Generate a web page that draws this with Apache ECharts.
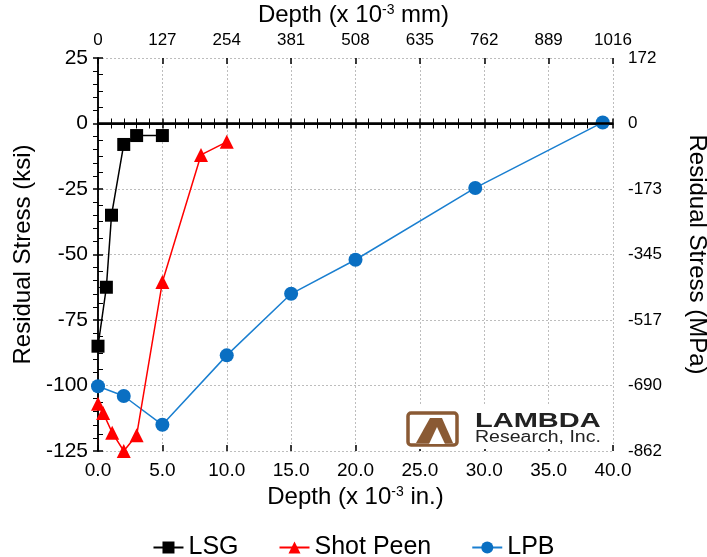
<!DOCTYPE html>
<html>
<head>
<meta charset="utf-8">
<title>Residual stress vs depth</title>
<script src="https://cdn.jsdelivr.net/npm/echarts@6/dist/echarts.min.js"></script>
<style>
  html, body { margin: 0; padding: 0; background: #fff; }
  #chart { width: 707px; height: 557px; }
</style>
</head>
<body>
<div id="chart"></div>
<script>
// depth in 10^-3 in., stress in ksi
const lsgDepth = [0, 0.65, 1.05, 2.0, 3.0, 5.0];
const lsgStress = [-85, -62.5, -35, -8, -4.6, -4.6];

const peenDepth = [0, 0.4, 1.1, 2.0, 3.0, 5.0, 8.0, 10.0];
const peenStress = [-107, -110.5, -118, -125, -119, -60.5, -12, -7];

const lpbDepth = [0, 2.0, 5.0, 10.0, 15.0, 20.0, 29.3, 39.2];
const lpbStress = [-100.3, -104, -115, -88.5, -65, -52, -24.6, 0.4];

const topTickLabels = ["0", "127", "254", "381", "508", "635", "762", "889", "1016"];
const rightTickLabels = ["172", "0", "-173", "-345", "-517", "-690", "-862"]; // top -> bottom

const FONT = "Liberation Sans, Arial, sans-serif";
const pairs = (xs, ys) => xs.map((x, i) => [x, ys[i]]);

const chart = echarts.init(document.getElementById("chart"), null, { renderer: "canvas" });

const axisLine = { show: true, lineStyle: { color: "#000", width: 1.5 } };
const dotted = { show: true, lineStyle: { color: "#bdbdbd", type: [2, 2], width: 1 } };
const innerTicks = (pos) => ({
  type: "value", position: pos, min: 0, max: 40, interval: 5,
  axisLine: { show: false }, axisLabel: { show: false }, splitLine: { show: false },
  axisTick: { show: true, inside: true, length: 6, lineStyle: { color: "#000", width: 1.5 } },
});

chart.setOption({
  animation: false,
  grid: { left: 98, right: 94, top: 58, bottom: 106, outerBoundsMode: "none", containLabel: false },
  xAxis: [
    {
      type: "value", position: "bottom", min: 0, max: 40, interval: 5,
      name: "Depth (x 10{sup|-3} in.)", nameLocation: "middle", nameGap: 34,
      nameTextStyle: { fontFamily: FONT, fontSize: 24, color: "#000",
        rich: { sup: { fontFamily: FONT, fontSize: 14, verticalAlign: "top", color: "#000" } } },
      axisLine,
      axisTick: { show: true, length: 5, lineStyle: { color: "#000", width: 1.5 } },
      minorTick: { show: true, splitNumber: 5, length: 5, lineStyle: { color: "#000", width: 1 } },
      axisLabel: { fontFamily: FONT, fontSize: 19, color: "#000", margin: 10, formatter: (v) => v.toFixed(1) },
      splitLine: dotted,
    },
    {
      type: "value", position: "top", min: 0, max: 40, interval: 5,
      axisLine,
      axisTick: { show: true, length: 5, lineStyle: { color: "#000", width: 1.5 } },
      minorTick: { show: true, splitNumber: 5, length: 5, lineStyle: { color: "#000", width: 1 } },
      axisLabel: { fontFamily: FONT, fontSize: 17, color: "#000", margin: 9,
        formatter: (v) => topTickLabels[Math.round(v / 5)] },
      splitLine: { show: false },
    },
    innerTicks("bottom"),
    innerTicks("top"),
  ],
  yAxis: [
    {
      type: "value", position: "left", min: -125, max: 25, interval: 25,
      name: "Residual Stress (ksi)", nameLocation: "middle", nameGap: 63,
      nameTextStyle: { fontFamily: FONT, fontSize: 24, color: "#000" },
      axisLine,
      axisTick: { show: true, length: 5, lineStyle: { color: "#000", width: 1.5 } },
      minorTick: { show: true, splitNumber: 5, length: 5, lineStyle: { color: "#000", width: 1 } },
      axisLabel: { fontFamily: FONT, fontSize: 21, color: "#000", margin: 10 },
      splitLine: dotted,
    },
    {
      type: "value", position: "right", min: -125, max: 25, interval: 25,
      name: "Residual Stress (MPa)", nameLocation: "middle", nameGap: 72, nameRotate: -90,
      nameTextStyle: { fontFamily: FONT, fontSize: 24, color: "#000" },
      axisLine,
      axisTick: { show: true, length: 5, lineStyle: { color: "#000", width: 1.5 } },
      minorTick: { show: true, splitNumber: 4, length: 5, lineStyle: { color: "#000", width: 1 } },
      axisLabel: { fontFamily: FONT, fontSize: 17, color: "#000", margin: 15,
        formatter: (v) => rightTickLabels[Math.round((25 - v) / 25)] },
      splitLine: { show: false },
    },
  ],
  legend: {
    top: 530, left: "center", itemGap: 40, itemWidth: 30, itemHeight: 15,
    textStyle: { fontFamily: FONT, fontSize: 25, color: "#000" },
    data: ["LSG", "Shot Peen", "LPB"],
  },
  graphic: [
    {
      type: "text", left: "center", top: 3,
      style: { text: "Depth (x 10{sup|-3} mm)", font: "24px " + FONT, fill: "#000",
        rich: { sup: { fontFamily: FONT, fontSize: 14, verticalAlign: "top", fill: "#000" } } },
    },
    { type: "rect", z: 10, shape: { x: 400, y: 404, width: 211, height: 45 }, style: { fill: "#fff" } },
    { type: "rect", z: 11, shape: { x: 408, y: 413, width: 49, height: 32, r: 3 },
      style: { fill: "none", stroke: "#8a5a34", lineWidth: 3.5 } },
    { type: "polygon", z: 11, shape: { points: [[416, 443], [430, 418], [442, 418], [453, 443]] },
      style: { fill: "#8a5a34" } },
    { type: "polygon", z: 12, shape: { points: [[429, 444], [437, 427], [445, 444]] },
      style: { fill: "#fff" } },
    { type: "text", z: 12, x: 475, y: 411, scaleX: 1.45,
      style: { text: "LAMBDA", font: "bold 20px " + FONT, fill: "#222" } },
    { type: "text", z: 12, x: 475, y: 430, scaleX: 1.22,
      style: { text: "Research, Inc.", font: "16px " + FONT, fill: "#222" } },
  ],
  series: [
    {
      name: "LSG", type: "line", data: pairs(lsgDepth, lsgStress),
      symbol: "rect", symbolSize: 13, color: "#000",
      lineStyle: { color: "#000", width: 1.5 }, itemStyle: { color: "#000" },
      markLine: { silent: true, symbol: "none", label: { show: false },
        lineStyle: { color: "#000", type: "solid", width: 2.5 }, data: [{ yAxis: 0 }] },
      z: 4,
    },
    {
      name: "Shot Peen", type: "line", data: pairs(peenDepth, peenStress),
      symbol: "triangle", symbolSize: 14, color: "#ff0000",
      lineStyle: { color: "#ff0000", width: 1.5 }, itemStyle: { color: "#ff0000" },
      z: 3,
    },
    {
      name: "LPB", type: "line", data: pairs(lpbDepth, lpbStress),
      symbol: "circle", symbolSize: 14, color: "#0a6fc2",
      lineStyle: { color: "#1a7fd0", width: 1.5 }, itemStyle: { color: "#0a6fc2" },
      z: 2,
    },
  ],
});
</script>
</body>
</html>
